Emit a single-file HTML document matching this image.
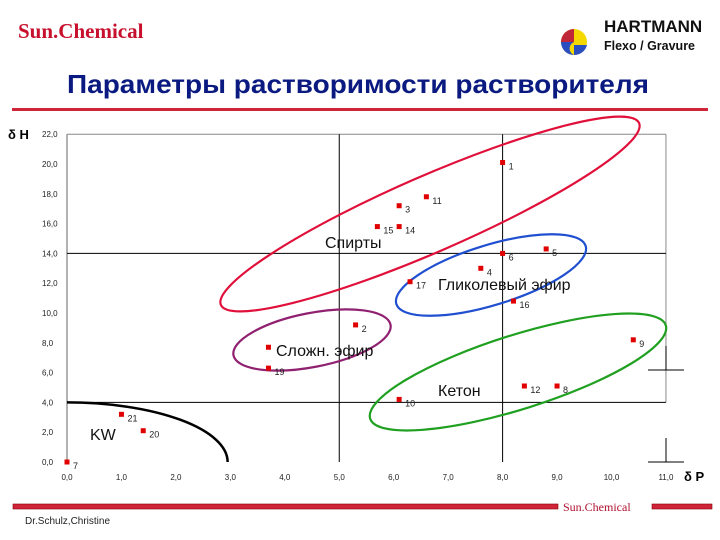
<!DOCTYPE html>
<html><head><meta charset="utf-8"><style>
body{margin:0;width:720px;height:540px;background:#fff;overflow:hidden;font-family:"Liberation Sans",sans-serif}
svg{position:absolute;left:0;top:0}
</style></head><body>
<svg width="720" height="540">
<text x="18" y="38" font-family="Liberation Serif" font-weight="bold" font-size="21" fill="#c8102e">Sun.Chemical</text>
<g>
<circle cx="574" cy="42" r="13" fill="#f5d800"/>
<path d="M574 29 A13 13 0 0 0 561 42 L574 42 Z" fill="#c0283a"/>
<path d="M561 42 A13 13 0 0 0 574 55 A7 7 0 0 1 574 42 Z" fill="#2a4ec0"/>
<path d="M574 55 A13 13 0 0 0 587 45 L574 45 Z" fill="#2a4ec0"/>
<text x="604" y="32" font-weight="bold" font-size="17" fill="#111">HARTMANN</text>
<text x="604" y="50" font-weight="bold" font-size="12.5" fill="#111">Flexo / Gravure</text>
</g>
<text x="358" y="93" text-anchor="middle" font-weight="bold" font-size="26" fill="#0a1a80" textLength="582" lengthAdjust="spacingAndGlyphs">Параметры растворимости растворителя</text>
<rect x="12" y="108" width="696" height="3" fill="#d0243a"/>
<g id="plot"></g>
<rect x="13" y="504" width="545" height="5" fill="#d0243a" stroke="#800" stroke-width="0.6"/>
<rect x="652" y="504" width="60" height="5" fill="#d0243a" stroke="#800" stroke-width="0.6"/>
<text x="563" y="511" font-family="Liberation Serif" font-size="12" fill="#b0102e">Sun.Chemical</text>
<text x="25" y="524" font-size="10" fill="#222">Dr.Schulz,Christine</text>
</svg>
<script>
const xTicks=["0,0","1,0","2,0","3,0","4,0","5,0","6,0","7,0","8,0","9,0","10,0","11,0"];
const yTicks=["0,0","2,0","4,0","6,0","8,0","10,0","12,0","14,0","16,0","18,0","20,0","22,0"];
const labels=["1","11","3","15","14","6","5","4","17","16","9","12","8","10","2","","19","21","20","7"];
const dP=[8.0,6.6,6.1,5.7,6.1,8.0,8.8,7.6,6.3,8.2,10.4,8.4,9.0,6.1,5.3,3.7,3.7,1.0,1.4,0.0];
const dH=[20.1,17.8,17.2,15.8,15.8,14.0,14.3,13.0,12.1,10.8,8.2,5.1,5.1,4.2,9.2,7.7,6.3,3.2,2.1,0.0];
const X=v=>67+v*54.45, Y=v=>462-v*14.9;
const NS="http://www.w3.org/2000/svg", g=document.getElementById('plot');
function mk(t,a,txt){const e=document.createElementNS(NS,t);for(const k in a)e.setAttribute(k,a[k]);if(txt!==undefined)e.textContent=txt;g.appendChild(e);return e;}
let e;
e=mk('line',{x1:X(0),y1:Y(22),x2:X(0),y2:Y(0),stroke:'#666','stroke-width':1});

e=mk('line',{x1:X(0),y1:Y(22),x2:X(11),y2:Y(22),stroke:'#888','stroke-width':1});

e=mk('line',{x1:X(11),y1:Y(22),x2:X(11),y2:Y(4),stroke:'#888','stroke-width':1});

[5,8].forEach(v=>{e=mk('line',{x1:X(v),y1:Y(22),x2:X(v),y2:Y(0),stroke:'#000','stroke-width':1});
});
[14,4].forEach(v=>{e=mk('line',{x1:X(0),y1:Y(v),x2:X(11),y2:Y(v),stroke:'#000','stroke-width':1});
});
xTicks.forEach((t,i)=>{e=mk('text',{x:X(i),y:480,'text-anchor':'middle','font-size':8,fill:'#222'},t);
});
yTicks.forEach((t,i)=>{e=mk('text',{x:42,y:Y(i*2)+3,'font-size':8,fill:'#222'},t);
});
e=mk('text',{x:8,y:139,'font-size':13,'font-weight':'bold'},'δ H');

e=mk('text',{x:684,y:481,'font-size':13,'font-weight':'bold'},'δ P');

[[666,370],[666,462]].forEach(c=>{e=mk('path',{d:`M${c[0]-18} ${c[1]}H${c[0]+18}M${c[0]} ${c[1]-24}V${c[1]}`,stroke:'#000','stroke-width':1,fill:'none'});
});
const ells=[["alcohols-ellipse",430,214,228,38,-23.5,'#e0103a'],["glycol-ether-ellipse",491,275,99,30,-17,'#2050d0'],["ester-ellipse",312,340,80,27,-11,'#902070'],["ketone-ellipse",518,372,155,37,-17.5,'#20a020']];
ells.forEach(a=>{e=mk('ellipse',{cx:a[1],cy:a[2],rx:a[3],ry:a[4],transform:`rotate(${a[5]} ${a[1]} ${a[2]})`,fill:'none',stroke:a[6],'stroke-width':2.2});
});
e=mk('path',{d:`M${X(0)} ${Y(4)} A${X(2.95)-X(0)} ${Y(0)-Y(4)} 0 0 1 ${X(2.95)} ${Y(0)}`,fill:'none',stroke:'#000','stroke-width':2.5});

dP.forEach((p,i)=>{e=mk('rect',{x:X(p)-2.5,y:Y(dH[i])-2.5,width:5,height:5,fill:'#e00000'});

if(labels[i]){e=mk('text',{x:X(p)+6,y:Y(dH[i])+7,'font-size':9,fill:'#222'},labels[i]);
}});
const groups=[["Спирты",325,248],["Гликолевый эфир",438,290],["Сложн. эфир",276,356],["Кетон",438,396],["KW",90,440]];
groups.forEach(a=>{e=mk('text',{x:a[1],y:a[2],'font-size':16,fill:'#111'},a[0]);
});
</script>
</body></html>
